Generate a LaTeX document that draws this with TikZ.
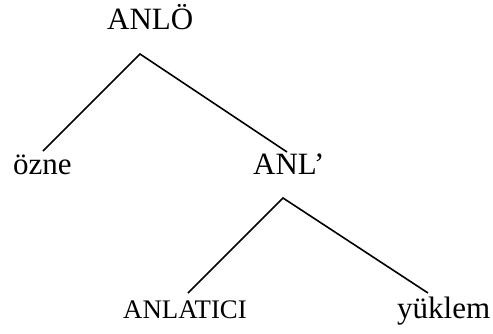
\documentclass[tikz,border=0pt]{standalone}
\usepackage{fontspec}
\setmainfont{Liberation Serif}
\tikzset{
    word/.style={inner sep=0pt, anchor=base west, font=\fontsize{31}{37}\selectfont},
    smallword/.style={word, font=\fontsize{26.8}{32}\selectfont},
    branch/.style={line width=1.6pt}
}
\begin{document}
\begin{tikzpicture}[x=1pt, y=-1pt]
        \useasboundingbox (0, 0) rectangle (493, 333);
        \node[word] (anlo) at (107, 29) {ANLÖ};
        \node[word] (ozne) at (13, 174.5) {özne};
        \node[word] (anl) at (253, 174.5) {ANL’};
        \node[smallword] (anlatici) at (123, 318) {ANLATICI};
        \node[word] (yuklem) at (397, 318) {yüklem};
        \coordinate (top1) at (140, 54);
        \coordinate (ozneend) at (43, 151);
        \coordinate (anlend) at (287, 152);
        \coordinate (top2) at (283, 198);
        \coordinate (anlaticiend) at (188, 293);
        \coordinate (yuklemend) at (428, 293);
        \draw[branch] (ozneend) -- (top1) -- (anlend);
        \draw[branch] (anlaticiend) -- (top2) -- (yuklemend);
    \end{tikzpicture}
\end{document}
